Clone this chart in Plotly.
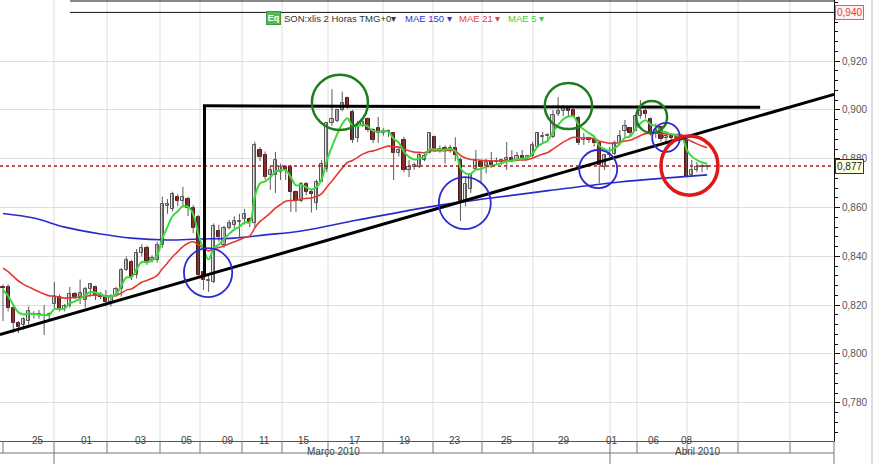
import plotly.graph_objects as go

# ---------------- data (2-hour candles) ----------------
opens = [0.8275,0.8275,0.8190,0.8127,0.8120,0.8135,0.8165,0.8165,0.8160,0.8158,
         0.8205,0.8235,0.8185,0.8195,0.8245,0.8235,0.8220,0.8265,0.8275,0.8243,
         0.8235,0.8215,0.8240,0.8265,0.8345,0.8375,0.8325,0.8415,0.8435,0.8385,
         0.8385,0.8445,0.8605,0.8595,0.8645,0.8625,0.8635,0.8598,0.8560,0.8335,
         0.8298,0.8295,0.8505,0.8445,0.8515,0.8530,0.8540,0.8555,0.8555,0.8535,
         0.8836,0.8816,0.8735,0.8735,0.8745,0.8765,0.8765,0.8665,0.8625,0.8695,
         0.8665,0.8620,0.8705,0.8760,0.8948,0.8955,0.9000,0.9050,0.8990,0.8885,
         0.8935,0.8965,0.8918,0.8925,0.8905,0.8915,0.8905,0.8823,0.8877,0.8755,
         0.8765,0.8765,0.8795,0.8825,0.8890,0.8835,0.8845,0.8835,0.8845,0.8795,
         0.8625,0.8675,0.8760,0.8785,0.8770,0.8790,0.8785,0.8785,0.8795,0.8805,
         0.8795,0.8810,0.8805,0.8810,0.8850,0.8890,0.8895,0.8890,0.8985,0.8995,
         0.9005,0.9000,0.8968,0.8875,0.8885,0.8875,0.8865,0.8765,0.8815,0.8820,
         0.8865,0.8915,0.8925,0.8915,0.8975,0.8995,0.8965,0.8905,0.8930,0.8885,
         0.8895,0.8885,0.8885,0.8885,0.8735,0.8755,0.8765,0.8768]
highs = [0.8285,0.8285,0.8195,0.8135,0.8150,0.8195,0.8175,0.8180,0.8200,0.8170,
         0.8295,0.8245,0.8205,0.8275,0.8255,0.8305,0.8275,0.8290,0.8280,0.8255,
         0.8262,0.8245,0.8275,0.8352,0.8400,0.8385,0.8430,0.8450,0.8445,0.8405,
         0.8460,0.8645,0.8635,0.8665,0.8655,0.8685,0.8645,0.8610,0.8570,0.8360,
         0.8320,0.8535,0.8530,0.8525,0.8550,0.8565,0.8575,0.8595,0.8560,0.8870,
         0.8848,0.8830,0.8770,0.8828,0.8780,0.8775,0.8775,0.8670,0.8705,0.8705,
         0.8675,0.8715,0.8795,0.8950,0.9085,0.9005,0.9075,0.9055,0.9000,0.8955,
         0.8965,0.8970,0.8925,0.8972,0.8925,0.8920,0.8910,0.8845,0.8890,0.8795,
         0.8785,0.8825,0.8820,0.8908,0.8895,0.8855,0.8855,0.8857,0.8888,0.8805,
         0.8726,0.8740,0.8836,0.8795,0.8800,0.8828,0.8805,0.8800,0.8869,0.8836,
         0.8828,0.8836,0.8815,0.8869,0.8910,0.8910,0.8905,0.9000,0.9053,0.9020,
         0.9015,0.9005,0.8975,0.8905,0.8890,0.8880,0.8870,0.8820,0.8848,0.8875,
         0.8918,0.8959,0.8930,0.8980,0.9041,0.9005,0.8970,0.8945,0.8935,0.8905,
         0.8900,0.8895,0.8900,0.8890,0.8795,0.8787,0.8778,0.8775]
lows = [0.8135,0.8175,0.8086,0.8086,0.8100,0.8120,0.8145,0.8145,0.8078,0.8135,
        0.8185,0.8175,0.8175,0.8190,0.8225,0.8205,0.8190,0.8235,0.8221,0.8225,
        0.8195,0.8195,0.8235,0.8235,0.8340,0.8303,0.8310,0.8400,0.8365,0.8375,
        0.8375,0.8435,0.8575,0.8585,0.8605,0.8605,0.8565,0.8495,0.8315,0.8262,
        0.8254,0.8290,0.8460,0.8435,0.8510,0.8515,0.8480,0.8530,0.8520,0.8520,
        0.8790,0.8715,0.8672,0.8660,0.8713,0.8713,0.8582,0.8582,0.8622,0.8650,
        0.8580,0.8590,0.8705,0.8745,0.8935,0.8950,0.8995,0.9005,0.8865,0.8868,
        0.8930,0.8910,0.8865,0.8865,0.8895,0.8890,0.8713,0.8810,0.8745,0.8725,
        0.8755,0.8762,0.8790,0.8822,0.8828,0.8825,0.8780,0.8825,0.8790,0.8545,
        0.8605,0.8660,0.8755,0.8700,0.8740,0.8762,0.8775,0.8775,0.8754,0.8785,
        0.8790,0.8795,0.8795,0.8805,0.8845,0.8865,0.8870,0.8885,0.8975,0.8975,
        0.8975,0.8970,0.8857,0.8857,0.8865,0.8850,0.8700,0.8754,0.8805,0.8815,
        0.8862,0.8885,0.8890,0.8915,0.8965,0.8965,0.8895,0.8885,0.8870,0.8865,
        0.8875,0.8870,0.8875,0.8725,0.8725,0.8745,0.8745,0.8755]
closes = [0.8270,0.8189,0.8127,0.8110,0.8145,0.8175,0.8160,0.8158,0.8155,0.8160,
          0.8235,0.8180,0.8195,0.8245,0.8235,0.8250,0.8265,0.8285,0.8243,0.8235,
          0.8215,0.8235,0.8265,0.8345,0.8385,0.8315,0.8415,0.8435,0.8375,0.8395,
          0.8445,0.8615,0.8615,0.8655,0.8625,0.8645,0.8598,0.8515,0.8325,0.8303,
          0.8305,0.8525,0.8480,0.8515,0.8535,0.8545,0.8545,0.8575,0.8540,0.8855,
          0.8807,0.8725,0.8755,0.8795,0.8765,0.8755,0.8665,0.8625,0.8695,0.8665,
          0.8655,0.8705,0.8780,0.8945,0.8965,0.9000,0.9028,0.9012,0.8875,0.8935,
          0.8950,0.8918,0.8877,0.8905,0.8915,0.8910,0.8823,0.8835,0.8754,0.8765,
          0.8775,0.8815,0.8813,0.8905,0.8835,0.8840,0.8835,0.8845,0.8815,0.8625,
          0.8695,0.8735,0.8790,0.8765,0.8785,0.8775,0.8790,0.8795,0.8805,0.8795,
          0.8810,0.8805,0.8810,0.8855,0.8905,0.8895,0.8895,0.8980,0.8995,0.9010,
          0.8995,0.8975,0.8865,0.8885,0.8875,0.8865,0.8775,0.8815,0.8820,0.8865,
          0.8895,0.8935,0.8905,0.8975,0.8995,0.8985,0.8905,0.8920,0.8880,0.8895,
          0.8885,0.8885,0.8890,0.8725,0.8755,0.8765,0.8765,0.8770]

# MAE 150 read at a few candles
mae150_idx = [0, 6, 12, 19, 25, 32, 38, 45, 51, 58, 69, 85, 95, 107, 120, 130, 137]
mae150_val = [0.8576, 0.8557, 0.8520, 0.8492, 0.8475, 0.8467, 0.8471, 0.8475, 0.8488,
              0.8504, 0.8549, 0.8610, 0.8639, 0.8672, 0.8705, 0.8723, 0.8734]
# starting values of the short averages (read at the left edge)
mae21_start = 0.8352
mae5_start = 0.8262
last_price = 0.877
line_940 = 0.940

day_labels = ["25", "01", "03", "05", "09", "11", "15", "17", "19", "23", "25", "29", "01", "06", "08"]
month_labels = ["Março 2010", "Abril 2010"]
y_ticks = [0.78, 0.80, 0.82, 0.84, 0.86, 0.88, 0.90, 0.92]

# ---------------- derived ----------------
N = len(closes)
xs = list(range(N))


def ema(vals, n, seed):
    a = 2.0 / (n + 1)
    out = [seed]
    for v in vals[1:]:
        out.append(out[-1] + a * (v - out[-1]))
    return out


mae21 = ema(closes, 21, mae21_start)
mae5 = ema(closes, 5, mae5_start)

W_PLOT = 834.0
STEP = 5.14
X0 = 3.0
xr = [(0 - X0) / STEP, (W_PLOT - X0) / STEP]
Y_TOP, Y_BOT = 0.94508, 0.76434
PH = 441.0


def px(p):       # pixel x -> paper x
    return p / W_PLOT


def py(p):       # pixel y -> paper y
    return (PH - p) / PH


fig = go.Figure()

# wicks
wx, wy = [], []
for i in xs:
    wx += [i, i, None]
    wy += [lows[i], highs[i], None]
fig.add_trace(go.Scatter(x=wx, y=wy, mode="lines", line=dict(color="#5a5a5a", width=1),
                         hoverinfo="skip", showlegend=False))

up = [i for i in xs if closes[i] >= opens[i]]
dn = [i for i in xs if closes[i] < opens[i]]
fig.add_trace(go.Bar(x=up, base=[min(opens[i], closes[i]) for i in up],
                     y=[max(abs(closes[i] - opens[i]), 0.0004) for i in up],
                     width=0.62, marker=dict(color="#ececec", line=dict(color="#555555", width=1)),
                     showlegend=False))
fig.add_trace(go.Bar(x=dn, base=[closes[i] for i in dn],
                     y=[opens[i] - closes[i] for i in dn],
                     width=0.62, marker=dict(color="#8a1c1c", line=dict(color="#5a1515", width=1)),
                     showlegend=False))

fig.add_trace(go.Scatter(x=mae150_idx, y=mae150_val, mode="lines",
                         line=dict(color="#2a2acc", width=1.6, shape="spline"), showlegend=False))
fig.add_trace(go.Scatter(x=xs, y=mae21, mode="lines",
                         line=dict(color="#e23a32", width=1.6, shape="spline"), showlegend=False))
fig.add_trace(go.Scatter(x=xs, y=mae5, mode="lines",
                         line=dict(color="#3ada3a", width=2, shape="spline"), showlegend=False))

shapes = []
# vertical grid / day separators
seps = [54, 107, 160, 200, 242, 282, 328, 383, 433, 482, 533, 610, 637, 687, 738, 790]
for s in seps:
    shapes.append(dict(type="line", xref="paper", yref="paper", x0=px(s), x1=px(s), y0=0, y1=1,
                       line=dict(color="#dddddd", width=1), layer="below"))
for s in [3] + seps + [834]:
    shapes.append(dict(type="line", xref="paper", yref="paper", x0=px(s), x1=px(s),
                       y0=py(441), y1=py(453), line=dict(color="#777777", width=1)))
for s in [54, 610, 834]:
    shapes.append(dict(type="line", xref="paper", yref="paper", x0=px(s), x1=px(s),
                       y0=py(453), y1=py(464), line=dict(color="#777777", width=1)))
shapes.append(dict(type="line", xref="paper", yref="paper", x0=0, x1=1, y0=py(453), y1=py(453),
                   line=dict(color="#777777", width=1)))
# header lines
shapes.append(dict(type="line", xref="paper", yref="paper", x0=px(70), x1=1, y0=py(1), y1=py(1),
                   line=dict(color="#111111", width=1)))
shapes.append(dict(type="line", xref="paper", yref="y", x0=px(70), x1=1, y0=line_940, y1=line_940,
                   line=dict(color="#111111", width=1)))
# window border right
shapes.append(dict(type="line", xref="paper", yref="paper", x0=px(872), x1=px(872), y0=py(464), y1=1,
                   line=dict(color="#bbbbbb", width=1)))
# last price dotted line
shapes.append(dict(type="line", xref="paper", yref="y", x0=0, x1=1, y0=last_price, y1=last_price,
                   line=dict(color="#b01818", width=1.5, dash="dot"), layer="above"))
# drawn lines (trend + triangle)
shapes.append(dict(type="line", xref="paper", yref="y", x0=0, x1=1, y0=0.8080, y1=0.9064,
                   line=dict(color="#000000", width=3)))
shapes.append(dict(type="line", xref="x", yref="y", x0=39.2, x1=39.2, y0=0.8316, y1=0.9017,
                   line=dict(color="#000000", width=3)))
shapes.append(dict(type="line", xref="x", yref="y", x0=38.9, x1=147.3, y0=0.9017, y1=0.9011,
                   line=dict(color="#000000", width=3)))
# circles
circ = [
    (60.1, 71.0, 0.8918, 0.9144, "#1e7d1e", 2.5),
    (105.4, 114.6, 0.8922, 0.9111, "#1e7d1e", 2.5),
    (123.2, 129.2, 0.8906, 0.9037, "#1e7d1e", 2.5),
    (35.2, 44.6, 0.8233, 0.8434, "#2a2ad0", 1.8),
    (84.8, 94.9, 0.8512, 0.8725, "#2a2ad0", 1.8),
    (112.1, 119.5, 0.8680, 0.8836, "#2a2ad0", 1.8),
    (126.3, 131.7, 0.8828, 0.8947, "#2a2ad0", 1.8),
    (128.0, 139.1, 0.8651, 0.8893, "#e01818", 3.5),
]
for x0, x1, y0, y1, c, w in circ:
    shapes.append(dict(type="circle", xref="x", yref="y", x0=x0, x1=x1, y0=y0, y1=y1,
                       line=dict(color=c, width=w)))

ann = []
label_x = [30, 79, 132.7, 179, 220, 257, 304, 355, 405, 455, 507, 571.7, 620, 661.7, 695]
for t, xx in zip(day_labels, label_x):
    ann.append(dict(text=t, x=px(xx), y=py(447.5), xref="paper", yref="paper", showarrow=False,
                    font=dict(size=10, color="#444444")))
for t, xx in zip(month_labels, [333, 722]):
    ann.append(dict(text=t, x=px(xx), y=py(459), xref="paper", yref="paper", showarrow=False,
                    font=dict(size=10, color="#444444")))
# header legend
hdr_y = py(11.5)
ann.append(dict(text="<b>Eq</b>", x=px(266), y=py(11), xref="paper", yref="paper", showarrow=False,
                xanchor="left", width=13, height=12, bgcolor="#58b858", bordercolor="#3e9a3e",
                borderwidth=1, borderpad=0, font=dict(size=9, color="#ffffff")))
ann.append(dict(text="SON:xlis 2 Horas TMG+0▾", x=px(282), y=hdr_y, xref="paper", yref="paper",
                xanchor="left", showarrow=False, font=dict(size=9.5, color="#333333")))
ann.append(dict(text="MAE 150 ▾", x=px(403), y=hdr_y, xref="paper", yref="paper",
                xanchor="left", showarrow=False, font=dict(size=9.5, color="#3333cc")))
ann.append(dict(text="MAE 21 ▾", x=px(457), y=hdr_y, xref="paper", yref="paper",
                xanchor="left", showarrow=False, font=dict(size=9.5, color="#e8403a")))
ann.append(dict(text="MAE 5 ▾", x=px(506), y=hdr_y, xref="paper", yref="paper",
                xanchor="left", showarrow=False, font=dict(size=9.5, color="#40d040")))
# value boxes on the axis
ann.append(dict(text="0,877", x=1, xref="paper", y=last_price, yref="y", xanchor="left", xshift=1,
                showarrow=False, bgcolor="#ffffe0", bordercolor="#333333", borderwidth=1, borderpad=1,
                font=dict(size=10, color="#222222")))
ann.append(dict(text="0,940", x=1, xref="paper", y=line_940, yref="y", xanchor="left", xshift=1,
                showarrow=False, bgcolor="#fff2f2", bordercolor="#e06060", borderwidth=1, borderpad=1,
                font=dict(size=10, color="#e04040")))

fig.update_layout(
    width=875, height=464,
    margin=dict(l=0, r=41, t=0, b=23, autoexpand=False),
    paper_bgcolor="white", plot_bgcolor="white",
    font=dict(family="Liberation Sans, Arial, sans-serif"),
    showlegend=False, barmode="overlay", bargap=0,
    shapes=shapes, annotations=ann,
    xaxis=dict(range=xr, showgrid=False, zeroline=False, showticklabels=False,
               showline=True, linecolor="#555555", linewidth=1, fixedrange=True),
    yaxis=dict(range=[Y_BOT, Y_TOP], side="right", tickvals=y_ticks,
               ticktext=[("%.3f" % v).replace(".", ",") for v in y_ticks],
               showgrid=True, gridcolor="#dedede", zeroline=False,
               showline=True, linecolor="#111111", linewidth=1,
               ticks="outside", ticklen=5, tickcolor="#111111",
               minor=dict(dtick=0.004, ticks="outside", ticklen=3, tickcolor="#111111", showgrid=False),
               tickfont=dict(size=10, color="#555555")),
)

fig.write_html("out.html", config={"displayModeBar": False},
               post_script="document.body.style.margin='0';document.body.style.overflow='hidden';")
